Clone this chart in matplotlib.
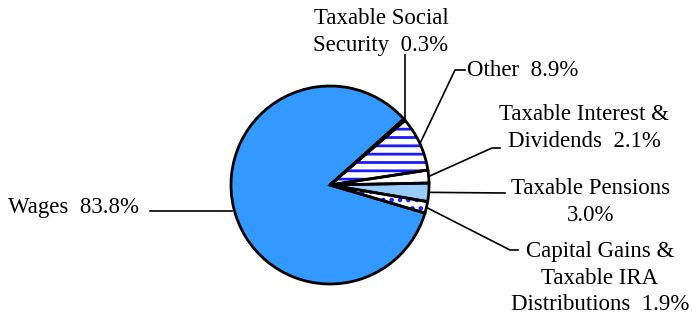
import matplotlib.pyplot as plt
import numpy as np

plt.rcParams['font.family'] = ['Liberation Serif', 'DejaVu Serif']

# Slices, counterclockwise from the lower right
labels = ['Capital Gains &\nTaxable IRA\nDistributions  1.9%',
          'Taxable Pensions\n3.0%',
          'Taxable Interest &\nDividends  2.1%',
          'Other  8.9%',
          'Taxable Social\nSecurity  0.3%',
          'Wages  83.8%']
shares = [1.9, 3.0, 2.1, 8.9, 0.3, 83.8]
colors = ['white', '#99ccff', 'white', 'white', 'white', '#3399ff']
hatches = ['..', None, None, '--', None, None]

W, H = 697, 320
fig = plt.figure(figsize=(W / 100, H / 100), dpi=100)
cx, cy, r = 330, 185, 99
ax = fig.add_axes([(cx - r) / W, (H - cy - r) / H, 2 * r / W, 2 * r / H])

start = -16.5
plt.rcParams['hatch.linewidth'] = 2.0
# fill + hatch (hatch takes the edge colour), then black outlines on top
wedges, _ = ax.pie(shares, colors=colors, startangle=start, counterclock=True,
                   radius=1, wedgeprops=dict(edgecolor='#1a1aff', linewidth=0))
for w, h in zip(wedges, hatches):
    if h:
        w.set_hatch(h)
    else:
        w.set_edgecolor(w.get_facecolor())
ax.pie(shares, colors=['none'] * len(shares), startangle=start, counterclock=True,
       radius=1, wedgeprops=dict(edgecolor='black', linewidth=2.0, fill=False))
ax.set_aspect('equal')
ax.set_xlim(-1, 1)
ax.set_ylim(-1, 1)
ax.axis('off')


def px(x, y):
    # figure pixel (from top) -> data
    return (x - cx) / r, (cy - y) / r


fs = 16.5
# leader lines: wedge index, kink point, end point, text position
leaders = [
    (0, (510, 250), (518, 250), (600, 278)),
    (1, None, (505, 193), (591, 202)),
    (2, (492, 148), (500, 148), (584, 128)),
    (3, (455, 70), (465, 70), (467, 70)),
    (4, (405, 55), (405, 55), (381, 32)),
]
theta = np.cumsum([0] + shares) / 100 * 360 + start
for i, kink, end, tpos in leaders:
    mid = np.deg2rad((theta[i] + theta[i + 1]) / 2)
    if i == 4:
        x0, y0 = px(405, 118)
    else:
        x0, y0 = np.cos(mid), np.sin(mid)
    pts = [(x0, y0)]
    if kink is not None:
        pts.append(px(*kink))
    pts.append(px(*end))
    xs, ys = zip(*pts)
    ax.plot(xs, ys, color='black', lw=1.2, clip_on=False)
    tx, ty = px(*tpos)
    ha = 'left' if i == 3 else 'center'
    ax.text(tx, ty, labels[i], ha=ha, va='center', fontsize=fs,
            linespacing=1.32, multialignment='center', clip_on=False)

# Wages label on the left
wx, wy = px(150, 211)
ax.plot([wx, px(232, 211)[0]], [wy, wy], color='black', lw=1.2, clip_on=False)
ax.text(*px(8, 207), labels[5], ha='left', va='center', fontsize=fs, clip_on=False)

fig.savefig('out.png', dpi=100)
